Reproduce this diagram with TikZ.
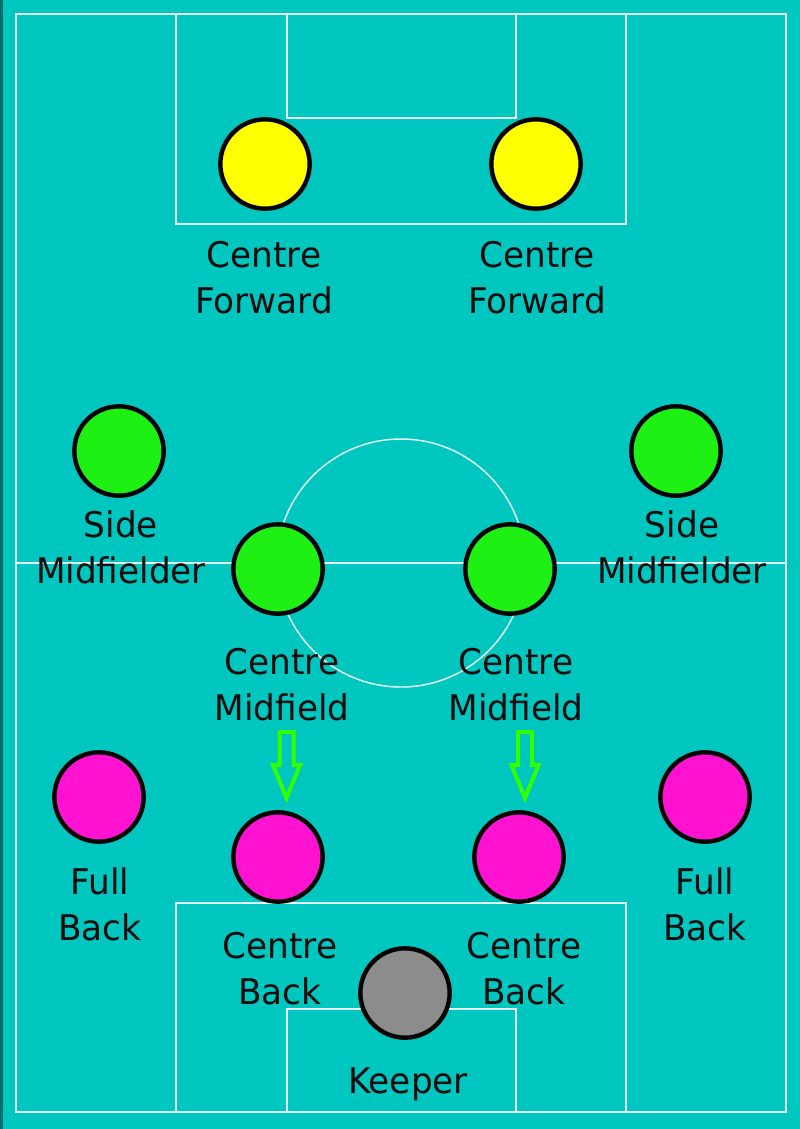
\documentclass[tikz,border=0pt]{standalone}
\usepackage{fontspec}
\newfontfamily\labelfont{DejaVu Sans}[FakeStretch=0.97]
\definecolor{pitch}{RGB}{0,198,192}
\definecolor{pitchedge}{RGB}{0,110,110}
\definecolor{fieldline}{RGB}{228,255,252}
\definecolor{fwyellow}{RGB}{255,255,0}
\definecolor{midgreen}{RGB}{30,240,20}
\definecolor{backpink}{RGB}{255,18,208}
\definecolor{keepgrey}{RGB}{140,140,140}
\definecolor{arrowgreen}{RGB}{50,255,0}
\definecolor{labeltext}{RGB}{12,12,12}
\tikzset{
  player/.style={circle, draw=black, line width=3.3pt, minimum size=67pt, inner sep=0pt},
  lab/.style={font=\labelfont\fontsize{26.5}{34.5}\selectfont, align=center, inner sep=0pt, anchor=north, text=labeltext},
  lines/.style={draw=fieldline, line width=1.5pt},
  moveline/.style={draw=arrowgreen, line width=3pt, line join=miter},
  movedown/.pic={\draw[moveline] (-7,0) -- (-7,33) -- (-13.5,33) -- (0,66) -- (13.5,33) -- (7,33) -- (7,0) -- cycle;}
}
\begin{document}
\begin{tikzpicture}[x=0.75pt, y=-0.75pt]
	% pitch
	\fill[pitch] (0,0) rectangle (800,1129);
	\fill[pitchedge] (0,0) rectangle (2.5,1129);
	\draw[lines] (16,14) rectangle (786,1112);
	\draw[lines] (16,563) -- (786,563);
	\draw[lines, line width=1.1pt] (401,563) circle (124);
	\draw[lines] (176,14) rectangle (626,224);
	\draw[lines] (287,14) rectangle (516,118);
	\draw[lines] (176,903) rectangle (626,1112);
	\draw[lines] (287,1009) rectangle (516,1112);

	% forwards
	\node[player, fill=fwyellow] (cf1) at (265,164) {};
	\node[player, fill=fwyellow] (cf2) at (536,164) {};
	\node[lab] (cf1lab) at (264,241) {Centre\\Forward};
	\node[lab] (cf2lab) at (537,241) {Centre\\Forward};

	% midfield
	\node[player, fill=midgreen] (sm1) at (119,451) {};
	\node[player, fill=midgreen] (sm2) at (676,451) {};
	\node[player, fill=midgreen] (cm1) at (278,569) {};
	\node[player, fill=midgreen] (cm2) at (510,569) {};
	\node[lab] (sm1lab) at (121,510) {Side\\Midfielder};
	\node[lab] (sm2lab) at (682,510) {Side\\Midfielder};
	\node[lab] (cm1lab) at (282,648) {Centre\\Midfield};
	\node[lab] (cm2lab) at (516,648) {Centre\\Midfield};

	% shift arrows
	\coordinate (mv1) at (286.5,732);
	\coordinate (mv2) at (525,732);
	\pic at (mv1) {movedown};
	\pic at (mv2) {movedown};

	% defence
	\node[player, fill=backpink] (fb1) at (99,797) {};
	\node[player, fill=backpink] (fb2) at (705,797) {};
	\node[player, fill=backpink] (cb1) at (278,857) {};
	\node[player, fill=backpink] (cb2) at (519,857) {};
	\node[lab] (fb1lab) at (100,867) {Full\\Back};
	\node[lab] (fb2lab) at (705,867) {Full\\Back};
	\node[lab] (cb1lab) at (280,932) {Centre\\Back};
	\node[lab] (cb2lab) at (524,932) {Centre\\Back};

	% keeper
	\node[player, fill=keepgrey] (gk) at (405,993) {};
	\node[lab] (gklab) at (408,1067) {Keeper};
\end{tikzpicture}
\end{document}
